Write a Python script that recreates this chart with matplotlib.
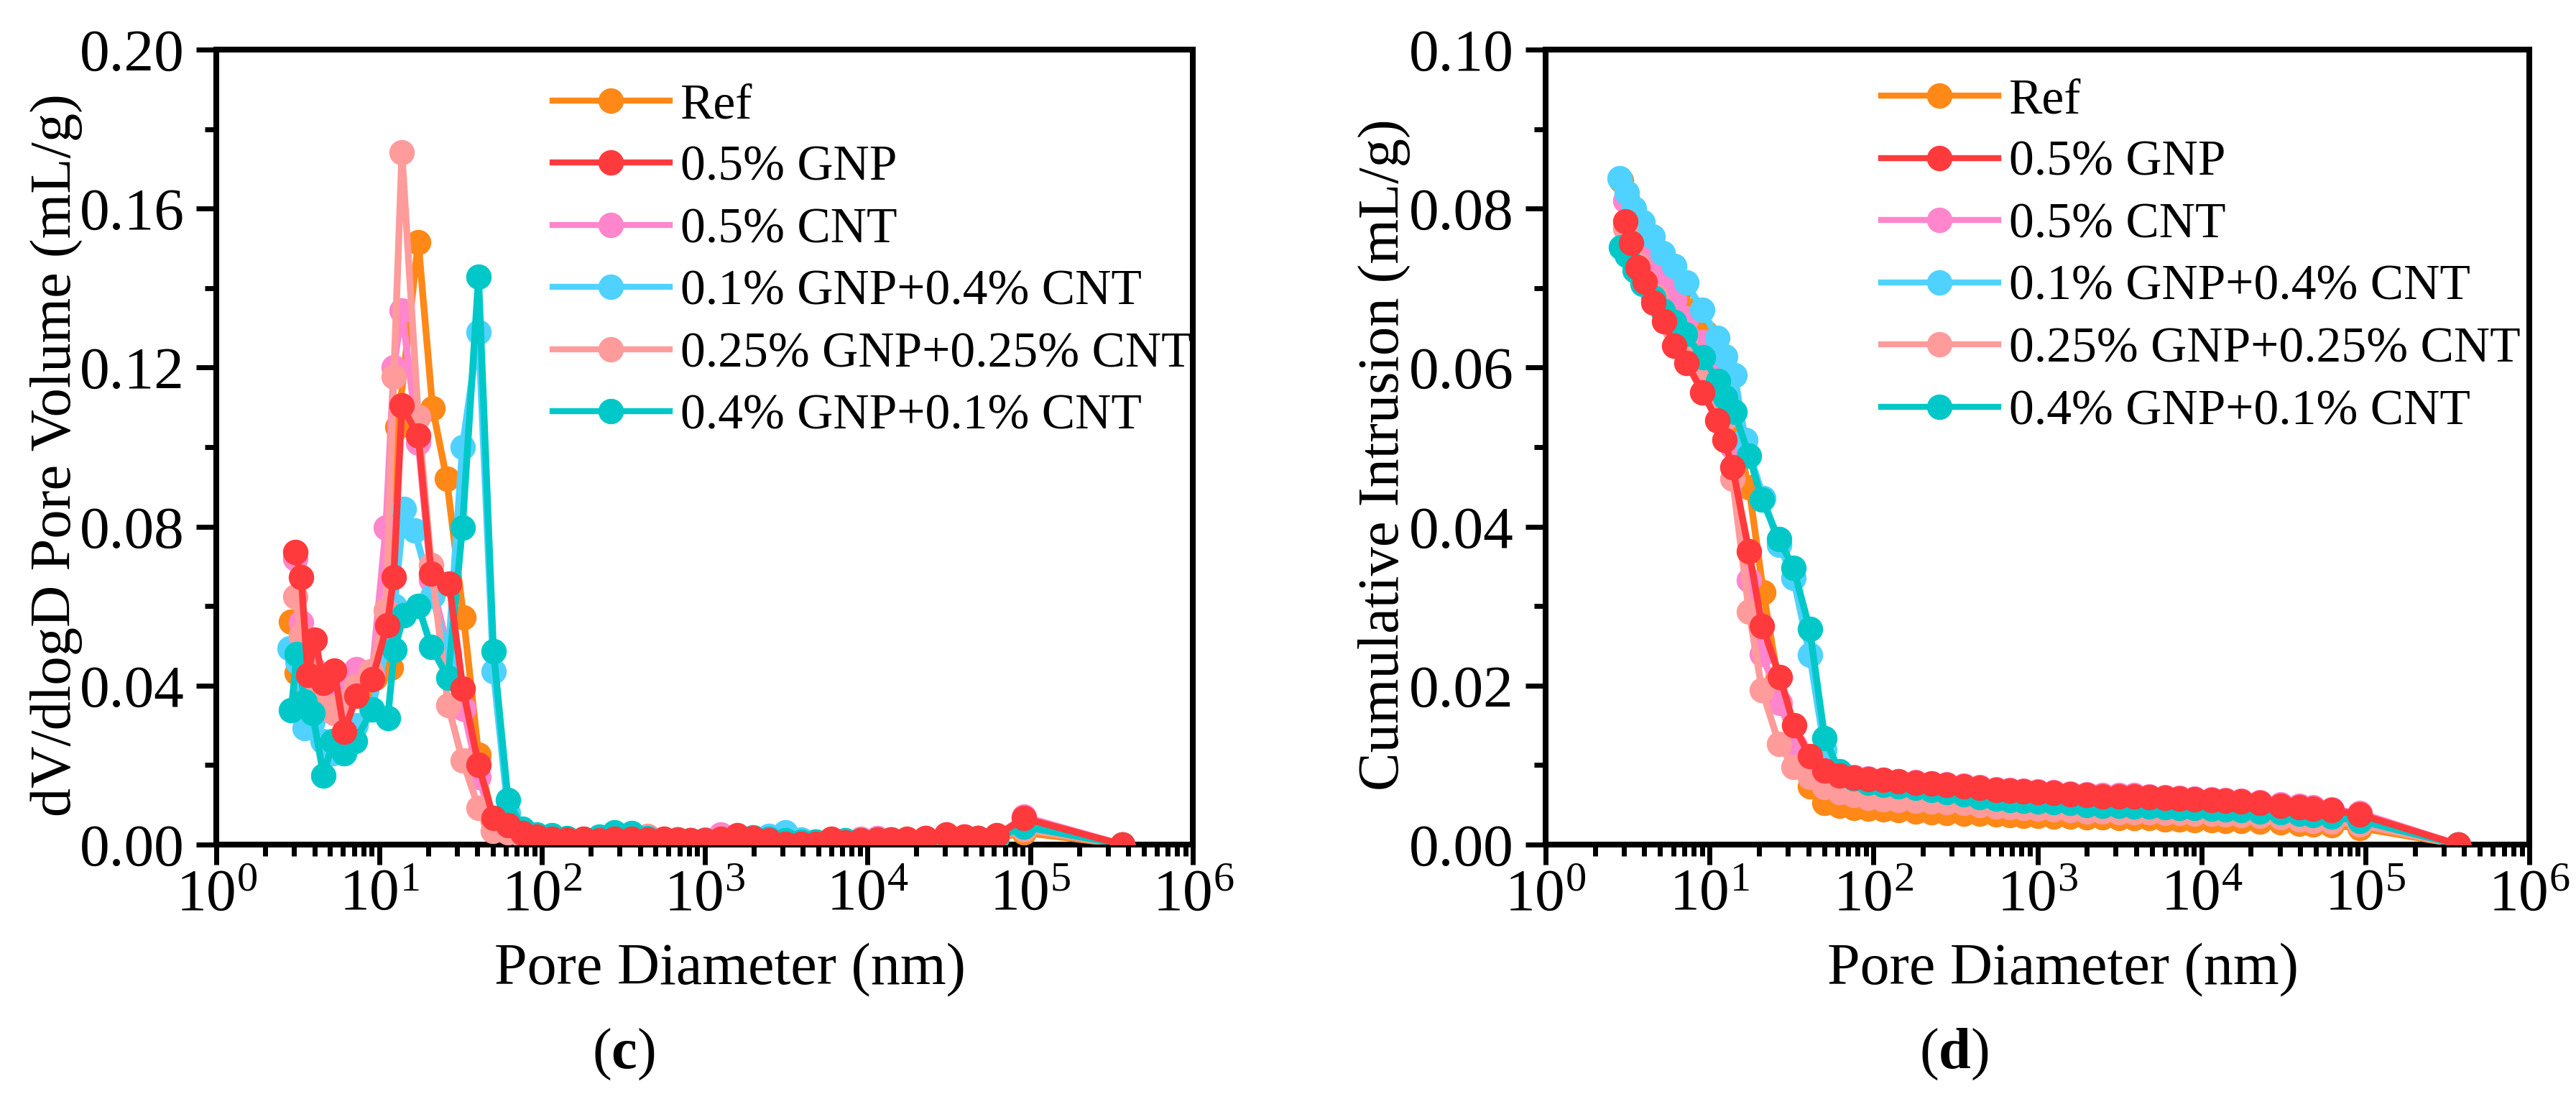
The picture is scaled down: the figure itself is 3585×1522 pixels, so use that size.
import matplotlib
matplotlib.use('Agg')
import matplotlib.pyplot as plt
from matplotlib.ticker import (MultipleLocator, AutoMinorLocator, LogLocator,
                               LogFormatterMathtext, NullFormatter, FormatStrFormatter)

plt.rcParams['font.family'] = ['Liberation Serif', 'DejaVu Serif']
plt.rcParams['mathtext.fontset'] = 'custom'
plt.rcParams['mathtext.rm'] = 'Liberation Serif'
plt.rcParams['mathtext.it'] = 'Liberation Serif:italic'
plt.rcParams['mathtext.bf'] = 'Liberation Serif:bold'

labels = ['Ref', '0.5% GNP', '0.5% CNT', '0.1% GNP+0.4% CNT',
          '0.25% GNP+0.25% CNT', '0.4% GNP+0.1% CNT']
colors = ['#FF8817', '#FF3A3D', '#FF85CC', '#4FD2FF', '#FF9B9B', '#00C8C8']

# small pores (nm), one list per mix
d_ref = [2.88, 3.13, 3.45, 3.85, 4.3, 4.9, 5.6, 6.5, 7.7, 9.4, 11.8, 13.0, 17.4, 21.3, 26.0, 33.0, 40.8, 50.0]
d_gnp = [3.05, 3.32, 3.65, 4.04, 4.55, 5.3, 6.1, 7.26, 9.05, 11.2, 12.3, 13.8, 17.4, 20.9, 26.9, 32.7, 40.8, 50.4]
d_cnt = [3.05, 3.32, 3.65, 4.04, 4.55, 5.3, 6.1, 7.26, 9.05, 11.0, 12.3, 13.8, 17.4, 20.9, 26.9, 33.0, 40.8, 50.4]
d_g1c4 = [2.83, 3.14, 3.47, 3.9, 4.5, 5.2, 6.1, 7.2, 9.0, 11.2, 12.4, 14.2, 16.5, 21.3, 26.5, 32.5, 40.8, 50.4]
d_g25c25 = [3.05, 3.32, 3.65, 4.04, 4.69, 5.3, 6.1, 7.26, 8.9, 11.0, 12.3, 13.8, 17.4, 20.9, 26.5, 32.5, 40.8, 50.0]
d_g4c1 = [2.88, 3.13, 3.5, 3.9, 4.55, 5.2, 6.07, 7.1, 9.1, 11.3, 12.4, 14.2, 17.4, 20.9, 26.5, 32.5, 40.8, 50.4]

# larger pores, shared by all mixes
d_tail = [62, 76, 93, 115, 142, 180, 225, 280, 355, 445,
          560, 680, 820, 1000, 1260, 1580, 1990, 2490, 3130, 3900,
          4800, 6000, 7300, 9100, 11500, 14000, 17500, 22700, 30500, 39500,
          48000, 62000, 92000, 368000]

# dV/dlogD (mL/g)
v_ref = [0.0561, 0.0432, 0.040, 0.038, 0.039, 0.036, 0.037, 0.040, 0.038, 0.042, 0.0445, 0.105, 0.1516, 0.1098, 0.0920, 0.0572, 0.0226, 0.006]
v_gnp = [0.0736, 0.0673, 0.0426, 0.0516, 0.0406, 0.0438, 0.0284, 0.0374, 0.0415, 0.0552, 0.0673, 0.1104, 0.1028, 0.0681, 0.0657, 0.0392, 0.0200, 0.0067]
v_cnt = [0.0720, 0.0558, 0.048, 0.044, 0.040, 0.0375, 0.0425, 0.0442, 0.043, 0.0797, 0.1200, 0.1344, 0.1010, 0.0665, 0.048, 0.0342, 0.0170, 0.005]
v_g1c4 = [0.0494, 0.046, 0.0293, 0.031, 0.026, 0.023, 0.025, 0.030, 0.034, 0.050, 0.060, 0.0845, 0.0790, 0.0626, 0.047, 0.1000, 0.1290, 0.0435]
v_g25c25 = [0.0623, 0.0526, 0.044, 0.040, 0.035, 0.033, 0.036, 0.040, 0.0435, 0.059, 0.1178, 0.1741, 0.1076, 0.0703, 0.0351, 0.0212, 0.0093, 0.0035]
v_g4c1 = [0.0338, 0.0480, 0.036, 0.033, 0.0174, 0.026, 0.0229, 0.026, 0.034, 0.0319, 0.049, 0.0577, 0.060, 0.0497, 0.042, 0.0797, 0.1429, 0.0487]

v_ref_tail = [0.0040, 0.0030, 0.0020, 0.0015, 0.0012, 0.0011, 0.0010, 0.0010, 0.0011, 0.0010,
              0.0010, 0.0009, 0.0009, 0.0010, 0.0012, 0.0011, 0.0010, 0.0009, 0.0008, 0.0008,
              0.0008, 0.0010, 0.0009, 0.0010, 0.0011, 0.0011, 0.0012, 0.0014, 0.0018, 0.0016,
              0.0015, 0.0016, 0.0030, 0.0]
v_gnp_tail = [0.0048, 0.0029, 0.0020, 0.0014, 0.0013, 0.0014, 0.0011, 0.0014, 0.0014, 0.0013,
              0.0014, 0.0013, 0.0011, 0.0011, 0.0014, 0.0023, 0.0017, 0.0011, 0.0002, 0.0002,
              0.0002, 0.0014, 0.0006, 0.0011, 0.0013, 0.0013, 0.0014, 0.0017, 0.0026, 0.0020,
              0.0017, 0.0023, 0.0066, 0.0]
v_cnt_tail = [0.0045, 0.0028, 0.0019, 0.0014, 0.0013, 0.0013, 0.0011, 0.0013, 0.0014, 0.0013,
              0.0013, 0.0012, 0.0011, 0.0012, 0.0025, 0.0020, 0.0015, 0.0010, 0.0004, 0.0003,
              0.0003, 0.0012, 0.0007, 0.0015, 0.0016, 0.0013, 0.0013, 0.0016, 0.0024, 0.0019,
              0.0017, 0.0022, 0.0070, 0.0]
v_g1c4_tail = [0.0080, 0.0030, 0.0022, 0.0018, 0.0014, 0.0012, 0.0011, 0.0012, 0.0013, 0.0012,
               0.0012, 0.0011, 0.0010, 0.0011, 0.0013, 0.0015, 0.0018, 0.0022, 0.0030, 0.0012,
               0.0008, 0.0010, 0.0009, 0.0010, 0.0011, 0.0012, 0.0013, 0.0015, 0.0020, 0.0018,
               0.0016, 0.0018, 0.0048, 0.0]
v_g25c25_tail = [0.0030, 0.0022, 0.0016, 0.0014, 0.0012, 0.0012, 0.0012, 0.0014, 0.0018, 0.0022,
                 0.0015, 0.0012, 0.0011, 0.0011, 0.0014, 0.0016, 0.0014, 0.0011, 0.0008, 0.0008,
                 0.0007, 0.0010, 0.0009, 0.0010, 0.0011, 0.0012, 0.0013, 0.0016, 0.0022, 0.0020,
                 0.0016, 0.0018, 0.0038, 0.0]
v_g4c1_tail = [0.0112, 0.0040, 0.0025, 0.0024, 0.0016, 0.0014, 0.0020, 0.0030, 0.0029, 0.0016,
               0.0013, 0.0012, 0.0011, 0.0011, 0.0013, 0.0016, 0.0018, 0.0015, 0.0010, 0.0008,
               0.0008, 0.0010, 0.0010, 0.0011, 0.0012, 0.0012, 0.0013, 0.0015, 0.0021, 0.0018,
               0.0016, 0.0018, 0.0045, 0.0]

# cumulative intrusion (mL/g)
c_ref = [0.0835, 0.0815, 0.0795, 0.078, 0.0762, 0.0745, 0.0722, 0.0695, 0.0672, 0.0645, 0.0605, 0.0559, 0.0449, 0.0317, 0.0210, 0.0119, 0.0073, 0.0052]
c_gnp = [0.0784, 0.0757, 0.0726, 0.0708, 0.0682, 0.0658, 0.0627, 0.0606, 0.0569, 0.0533, 0.0509, 0.0475, 0.0369, 0.0275, 0.0211, 0.0150, 0.0111, 0.0093]
c_cnt = [0.0810, 0.0790, 0.0768, 0.0750, 0.0728, 0.0705, 0.0685, 0.0662, 0.0632, 0.0590, 0.0555, 0.0500, 0.0333, 0.0240, 0.0178, 0.0125, 0.0100, 0.0092]
c_g1c4 = [0.0838, 0.0820, 0.0800, 0.0783, 0.0765, 0.0744, 0.0728, 0.0707, 0.0673, 0.0637, 0.0614, 0.0590, 0.0509, 0.0436, 0.0377, 0.0335, 0.0239, 0.0119]
c_g25c25 = [0.0775, 0.0752, 0.0730, 0.0710, 0.0690, 0.0668, 0.0648, 0.0625, 0.0598, 0.0565, 0.0535, 0.0460, 0.0293, 0.0194, 0.0127, 0.0098, 0.0085, 0.0072]
c_g4c1 = [0.0751, 0.0741, 0.0722, 0.0705, 0.0688, 0.0672, 0.0657, 0.0642, 0.0613, 0.0583, 0.0562, 0.0544, 0.0489, 0.0434, 0.0384, 0.0348, 0.0271, 0.0134]

c_ref_tail = [0.0049, 0.0046, 0.0045, 0.0044, 0.0043, 0.0042, 0.0041, 0.0040, 0.0039, 0.0039,
              0.0038, 0.0037, 0.0036, 0.0036, 0.0035, 0.0035, 0.0034, 0.0034, 0.0033, 0.0033,
              0.0033, 0.0032, 0.0032, 0.0031, 0.0031, 0.0030, 0.0030, 0.0029, 0.0028, 0.0026,
              0.0025, 0.0024, 0.0021, 0.0]
c_gnp_tail = [0.0087, 0.0084, 0.0082, 0.0081, 0.0080, 0.0078, 0.0077, 0.0075, 0.0073, 0.0071,
              0.0069, 0.0068, 0.0067, 0.0066, 0.0065, 0.0063, 0.0062, 0.0061, 0.0061, 0.0061,
              0.0060, 0.0059, 0.0058, 0.0057, 0.0056, 0.0055, 0.0054, 0.0052, 0.0049, 0.0047,
              0.0045, 0.0043, 0.0038, 0.0]
c_cnt_tail = [0.0089, 0.0085, 0.0083, 0.0081, 0.0080, 0.0079, 0.0077, 0.0076, 0.0074, 0.0072,
              0.0070, 0.0069, 0.0068, 0.0067, 0.0066, 0.0064, 0.0063, 0.0062, 0.0062, 0.0062,
              0.0061, 0.0060, 0.0059, 0.0058, 0.0057, 0.0056, 0.0055, 0.0053, 0.0051, 0.0049,
              0.0047, 0.0044, 0.0040, 0.0]
c_g1c4_tail = [0.0088, 0.0080, 0.0076, 0.0073, 0.0071, 0.0069, 0.0067, 0.0064, 0.0061, 0.0058,
               0.0056, 0.0054, 0.0053, 0.0052, 0.0051, 0.0050, 0.0048, 0.0046, 0.0044, 0.0045,
               0.0045, 0.0044, 0.0044, 0.0043, 0.0043, 0.0042, 0.0041, 0.0040, 0.0039, 0.0037,
               0.0035, 0.0033, 0.0028, 0.0]
c_g25c25_tail = [0.0066, 0.0062, 0.0059, 0.0057, 0.0056, 0.0055, 0.0054, 0.0053, 0.0052, 0.0050,
                 0.0048, 0.0047, 0.0046, 0.0045, 0.0044, 0.0043, 0.0042, 0.0042, 0.0041, 0.0041,
                 0.0041, 0.0040, 0.0040, 0.0039, 0.0039, 0.0038, 0.0037, 0.0036, 0.0034, 0.0032,
                 0.0030, 0.0029, 0.0025, 0.0]
c_g4c1_tail = [0.0092, 0.0083, 0.0078, 0.0075, 0.0073, 0.0071, 0.0069, 0.0066, 0.0063, 0.0060,
               0.0058, 0.0056, 0.0055, 0.0054, 0.0053, 0.0052, 0.0050, 0.0049, 0.0049, 0.0048,
               0.0048, 0.0047, 0.0046, 0.0046, 0.0045, 0.0044, 0.0043, 0.0042, 0.0041, 0.0039,
               0.0037, 0.0035, 0.0030, 0.0]

d_low = [d_ref, d_gnp, d_cnt, d_g1c4, d_g25c25, d_g4c1]
v_low = [v_ref, v_gnp, v_cnt, v_g1c4, v_g25c25, v_g4c1]
v_tail = [v_ref_tail, v_gnp_tail, v_cnt_tail, v_g1c4_tail, v_g25c25_tail, v_g4c1_tail]
c_low = [c_ref, c_gnp, c_cnt, c_g1c4, c_g25c25, c_g4c1]
c_tail = [c_ref_tail, c_gnp_tail, c_cnt_tail, c_g1c4_tail, c_g25c25_tail, c_g4c1_tail]
zorders = [3, 8, 4, 5, 6, 7]


def style_axes(ax, ymax, ystep, ylabel):
    ax.set_xscale('log')
    ax.set_xlim(1, 1e6)
    ax.set_ylim(0, ymax)
    ax.xaxis.set_major_locator(LogLocator(base=10, numticks=10))
    ax.xaxis.set_major_formatter(LogFormatterMathtext())
    ax.xaxis.set_minor_locator(LogLocator(base=10, subs=[2, 3, 4, 5, 6, 7, 8, 9], numticks=20))
    ax.xaxis.set_minor_formatter(NullFormatter())
    ax.yaxis.set_major_locator(MultipleLocator(ystep))
    ax.yaxis.set_minor_locator(AutoMinorLocator(2))
    ax.yaxis.set_major_formatter(FormatStrFormatter('%.2f'))
    for sp in ax.spines.values():
        sp.set_linewidth(5.8)
    ax.tick_params(which='both', direction='out', width=5, labelsize=60)
    ax.tick_params(which='major', length=20)
    ax.tick_params(which='minor', length=11.5)
    ax.tick_params(axis='x', which='major', pad=4)
    ax.tick_params(axis='y', which='major', pad=12)
    ax.set_xlabel('Pore Diameter (nm)', fontsize=59)
    ax.xaxis.set_label_coords(0.526, -0.124)
    ax.set_ylabel(ylabel, fontsize=58)
    ax.yaxis.set_label_coords(-0.137, 0.49)


def draw(ax, low, tail):
    for i in range(len(labels)):
        ax.plot(d_low[i] + d_tail, low[i] + tail[i], '-o', color=colors[i],
                lw=6.8, ms=24.5, label=labels[i], zorder=zorders[i])


fig = plt.figure(figsize=(35.85, 15.22), dpi=100, facecolor='white')
ax1 = fig.add_axes([0.0840, 0.2280, 0.3791, 0.7267])
ax2 = fig.add_axes([0.6000, 0.2280, 0.3819, 0.7267])

draw(ax1, v_low, v_tail)
style_axes(ax1, 0.20, 0.04, 'dV/dlogD Pore Volume (mL/g)')
draw(ax2, c_low, c_tail)
style_axes(ax2, 0.10, 0.02, 'Cumulative Intrusion (mL/g)')

for ax, x0, top in [(ax1, 0.344, 0.958), (ax2, 0.341, 0.964)]:
    leg = ax.legend(loc='upper left', bbox_to_anchor=(x0, top), frameon=False,
                    fontsize=50, handlelength=2.35, handletextpad=0.22,
                    labelspacing=0.33, borderpad=0, borderaxespad=0, numpoints=1)
    for h in leg.get_lines():
        h.set_linewidth(6.0)

fig.text(0.2421, 0.036, r'($\mathbf{c}$)', fontsize=58, ha='center', va='center')
fig.text(0.7585, 0.036, r'($\mathbf{d}$)', fontsize=58, ha='center', va='center')

fig.savefig('out.png', dpi=100, facecolor='white')
